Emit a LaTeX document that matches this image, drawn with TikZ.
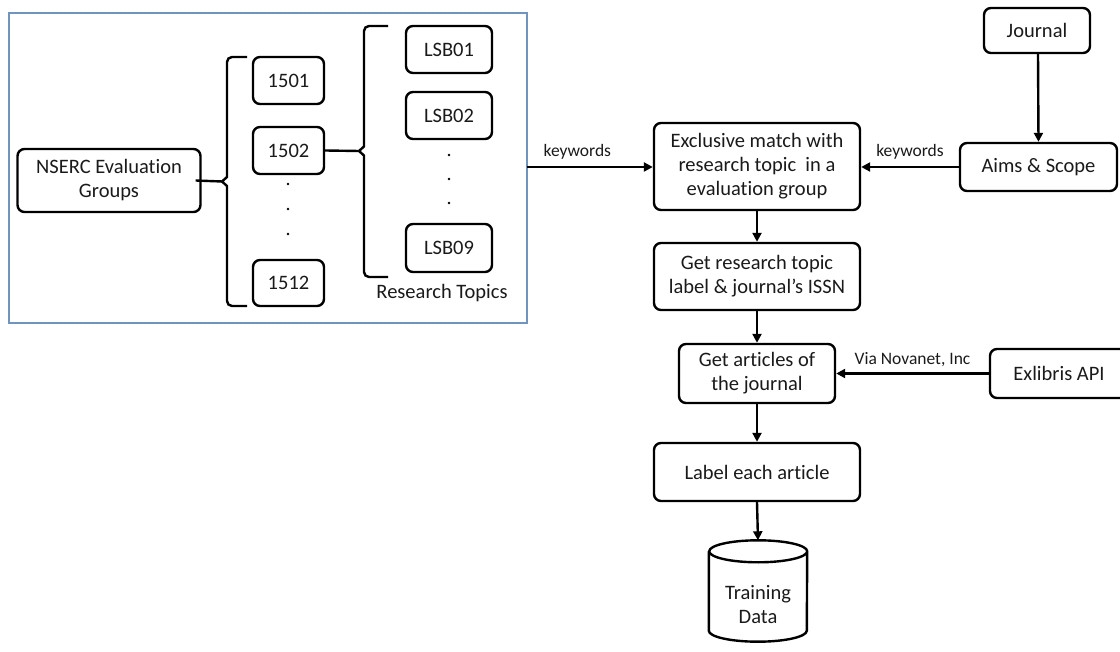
\documentclass[tikz,border=0pt]{standalone}
\usepackage{fontspec}
\setmainfont{Carlito}[Ligatures=NoCommon]
\usetikzlibrary{arrows.meta}
\definecolor{framecol}{HTML}{7094BC}
\definecolor{inkcol}{HTML}{1A1A1A}
\tikzset{
  box/.style={draw=black, line width=2.4pt, rounded corners=7pt, align=center,
    inner sep=0pt, text=inkcol, font=\fontsize{20.5}{24}\selectfont},
  lbl/.style={inner sep=0pt, text=inkcol, font=\fontsize{17.5}{20}\selectfont},
  conn/.style={draw=black, line width=2.4pt},
  arr/.style={conn, -{Triangle[length=9pt,width=9pt]}},
  bracestyle/.style={draw=black, line width=2.4pt},
  dotstyle/.style={fill=black, inner sep=0pt, minimum size=2.8pt, circle}
}
\begin{document}
\begin{tikzpicture}[x=1pt,y=-1pt]
\useasboundingbox (0,0) rectangle (1120,652);

% evaluation group hierarchy in its frame
\draw[framecol, line width=1.3pt] (9,13) rectangle (527,323);
\coordinate (frameE) at (527,167);

\node[box, minimum width=183pt, minimum height=63pt] (nserc) at (109,180.5) {NSERC Evaluation\\Groups};

\node[box, minimum width=71pt, minimum height=47pt] (g1501) at (288.5,80.5) {1501};
\node[box, minimum width=71pt, minimum height=47pt] (g1502) at (288.5,150.5) {1502};
\node[box, minimum width=71pt, minimum height=46pt] (g1512) at (288.5,283) {1512};
\node[dotstyle] (d1) at (288,184) {};
\node[dotstyle] (d2) at (288,209) {};
\node[dotstyle] (d3) at (288,234) {};

\node[box, minimum width=86pt, minimum height=47pt] (lsb01) at (449,49.5) {LSB01};
\node[box, minimum width=86pt, minimum height=47pt] (lsb02) at (449,115.5) {LSB02};
\node[box, minimum width=86pt, minimum height=48pt] (lsb09) at (449,248) {LSB09};
\node[dotstyle] (e1) at (449,155) {};
\node[dotstyle] (e2) at (449,179) {};
\node[dotstyle] (e3) at (449,203) {};
\node[box, draw=none] (topics) at (442,293) {Research Topics};

% curly brackets
\coordinate (b1tip) at (222,181.5);
\draw[bracestyle, rounded corners=5pt] (247,57) -- (227,57) -- (227,170)
  [sharp corners] -- (227,177) -- (b1tip) -- (227,186) [rounded corners=5pt] -- (227,306) -- (247,306);
\draw[conn] (nserc.east) ++(-6pt,0) -- (b1tip);

\coordinate (b2tip) at (359,151);
\draw[bracestyle, rounded corners=5pt] (388,26) -- (364,26) -- (364,140)
  [sharp corners] -- (364,146.5) -- (b2tip) -- (364,155.5) [rounded corners=5pt] -- (364,277) -- (388,277);
\draw[conn] (g1502.east) -- (b2tip);

% journal side
\node[box, minimum width=106pt, minimum height=45pt] (journal) at (1037,30.5) {Journal};
\node[box, minimum width=157pt, minimum height=48pt] (aims) at (1038.5,167) {Aims \& Scope};

% main flow
\node[box, minimum width=206pt, minimum height=87pt] (excl) at (757,166.5) {Exclusive match with\\research topic\ \ in a\\evaluation group};
\node[box, minimum width=206pt, minimum height=67pt] (getres) at (757,276.5) {Get research topic\\label \& journal’s ISSN};
\node[box, minimum width=156pt, minimum height=59pt] (getart) at (757,373.5) {Get articles of\\the journal};
\node[box, minimum width=138pt, minimum height=49pt] (exlib) at (1059,373.5) {Exlibris API};
\node[box, minimum width=206pt, minimum height=58pt] (labelart) at (757,472) {Label each article};

% training data store
\node[minimum width=98pt, minimum height=101pt, inner sep=0pt] (data) at (758,591) {};
\node[box, draw=none] (datatext) at (758,605) {Training\\Data};
\draw[line width=2.4pt]
  ([yshift=-11pt]data.north west) -- ([yshift=11pt]data.south west)
  arc[start angle=180, end angle=360, x radius=49pt, y radius=11pt]
  -- ([yshift=-11pt]data.north east)
  arc[start angle=0, end angle=360, x radius=49pt, y radius=11pt];

% connectors
\draw[arr] (frameE) -- node[lbl, above=6pt, pos=0.4] (kw1) {keywords} (excl.west |- frameE);
\draw[arr] (aims.west) -- node[lbl, above=6pt, pos=0.5] (kw2) {keywords} (excl.east |- aims.west);
\draw[arr] (journal.south -| aims.north) ++(-0.5pt,0) -- (aims.north);
\draw[arr] (excl.south) -- (getres.north);
\draw[arr] (getres.south) -- (getart.north);
\draw[arr] (exlib.west) -- node[lbl, above=6pt, pos=0.5] (via) {Via Novanet, Inc} (getart.east |- exlib.west);
\draw[arr] (getart.south) -- (labelart.north);
\draw[arr] (labelart.south) -- (data.north);
\end{tikzpicture}
\end{document}
